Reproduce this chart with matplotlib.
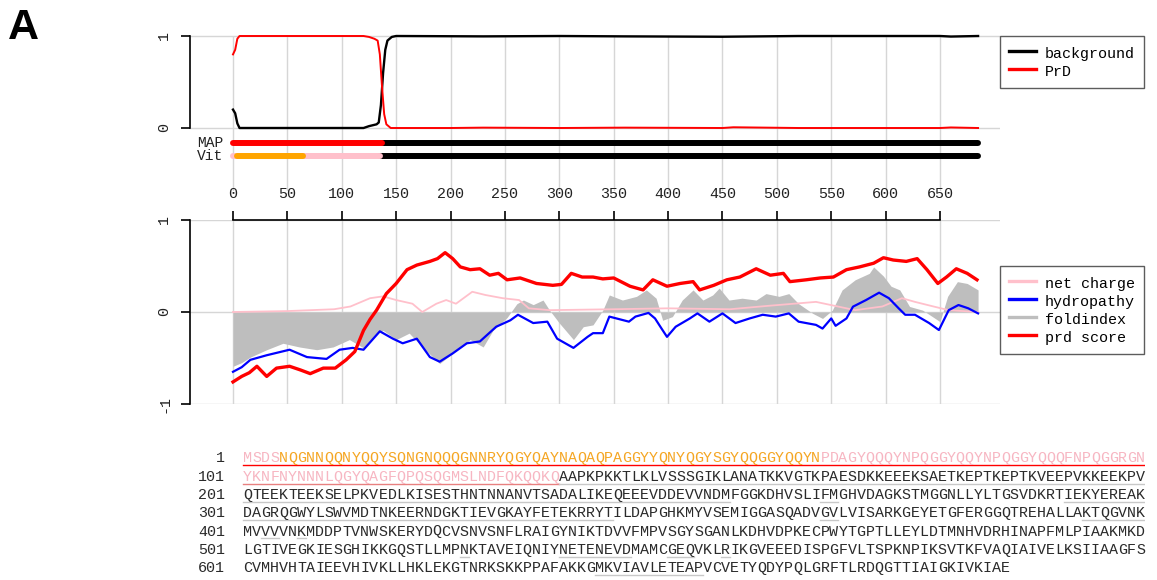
import matplotlib
matplotlib.use("Agg")
from matplotlib import pyplot as plt
from matplotlib.lines import Line2D

plt.rcParams['font.family'] = ['Liberation Mono', 'DejaVu Sans Mono']

# --- top panel: PrD / background probabilities ---
prd_x = [0, 2, 4, 6, 10, 60, 120, 125, 130, 133, 135, 137, 139, 141, 145, 200, 230, 300, 360, 450, 460, 520, 650, 660, 685]
prd_y = [0.80, 0.85, 0.97, 1.0, 1.0, 1.0, 1.0, 0.99, 0.97, 0.95, 0.80, 0.45, 0.15, 0.04, 0.0, 0.0, 0.004, 0.0, 0.004, 0.0, 0.008, 0.0, 0.0, 0.006, 0.0]
bg_x = [0, 2, 4, 6, 10, 120, 125, 132, 134, 136, 138, 140, 142, 146, 150, 230, 300, 360, 450, 520, 650, 660, 685]
bg_y = [0.20, 0.16, 0.05, 0.0, 0.0, 0.0, 0.02, 0.04, 0.06, 0.25, 0.6, 0.85, 0.95, 0.99, 1.0, 0.996, 1.0, 0.996, 0.992, 1.0, 1.0, 0.994, 1.0]

# MAP / Vit state tracks: (start, end, colour)
map_track = [(138, 685, "black"), (0, 137, "red")]
vit_track = [(135, 685, "black"), (0, 4, "pink"), (64, 135, "pink"), (4, 64, "orange")]

# --- bottom panel: sliding window scores ---
prd_score_x = [0, 8, 15, 22, 31, 40, 52, 62, 71, 83, 94, 104, 112, 120, 126, 132, 141, 150, 160, 169, 181, 188, 195, 202, 209, 218,
               227, 236, 244, 252, 264, 279, 294, 302, 311, 321, 331, 340, 350, 365, 377, 386, 399, 411, 423, 429, 442, 454, 466,
               481, 494, 506, 512, 527, 540, 552, 564, 576, 589, 598, 607, 619, 629, 638, 648, 656, 665, 675, 684]
prd_score = [-0.76, -0.70, -0.66, -0.59, -0.70, -0.61, -0.59, -0.63, -0.67, -0.61, -0.61, -0.52, -0.43, -0.20, -0.08, 0.02, 0.20,
             0.31, 0.46, 0.51, 0.55, 0.58, 0.645, 0.58, 0.49, 0.46, 0.47, 0.40, 0.42, 0.35, 0.37, 0.31, 0.29, 0.30, 0.42, 0.38,
             0.38, 0.36, 0.37, 0.28, 0.24, 0.35, 0.28, 0.31, 0.33, 0.24, 0.29, 0.35, 0.38, 0.47, 0.40, 0.42, 0.33, 0.35, 0.37,
             0.38, 0.46, 0.49, 0.53, 0.59, 0.565, 0.55, 0.58, 0.46, 0.31, 0.38, 0.47, 0.42, 0.35]

hydro_x = [0, 8, 16, 31, 52, 68, 86, 98, 110, 120, 135, 147, 156, 169, 181, 190, 202, 215, 227, 242, 255, 262, 276, 289, 298, 313,
           326, 331, 340, 346, 364, 370, 382, 388, 394, 399, 407, 420, 427, 438, 450, 462, 475, 487, 499, 511, 520, 536, 542, 550,
           554, 564, 570, 582, 594, 603, 612, 618, 627, 640, 649, 658, 667, 676, 685]
hydropathy = [-0.65, -0.60, -0.52, -0.47, -0.41, -0.49, -0.51, -0.41, -0.39, -0.41, -0.21, -0.29, -0.34, -0.29, -0.49, -0.54, -0.45,
              -0.34, -0.32, -0.16, -0.09, -0.03, -0.12, -0.105, -0.29, -0.39, -0.27, -0.23, -0.23, -0.05, -0.105, -0.05, -0.01,
              -0.07, -0.18, -0.27, -0.16, -0.07, -0.015, -0.105, -0.015, -0.12, -0.07, -0.03, -0.05, -0.015, -0.105, -0.14, -0.18,
              -0.07, -0.15, -0.07, 0.058, 0.13, 0.21, 0.15, 0.04, -0.03, -0.03, -0.12, -0.196, 0.02, 0.076, 0.04, -0.015]

charge_x = [0, 50, 93, 108, 126, 138, 150, 165, 174, 187, 196, 205, 220, 232, 248, 263, 272, 291, 350, 400, 457, 490, 536, 554,
            572, 597, 615, 627, 644, 658, 685]
net_charge = [0.0, 0.01, 0.03, 0.06, 0.15, 0.17, 0.13, 0.09, 0.0, 0.09, 0.13, 0.09, 0.22, 0.185, 0.15, 0.13, 0.04, 0.02, 0.03,
              0.04, 0.03, 0.065, 0.11, 0.065, 0.02, 0.06, 0.15, 0.11, 0.06, 0.02, 0.0]

fold_x = [0, 8, 16, 31, 46, 61, 77, 92, 107, 120, 132, 138, 150, 162, 174, 190, 202, 218, 230, 239, 252, 261, 267, 276, 285, 291,
          300, 313, 322, 331, 340, 346, 358, 371, 380, 389, 395, 404, 413, 423, 432, 441, 447, 456, 468, 481, 490, 502, 511, 520,
          533, 542, 551, 560, 572, 585, 589, 598, 605, 613, 622, 634, 643, 650, 657, 666, 675, 685]
foldindex = [-0.59, -0.55, -0.49, -0.41, -0.34, -0.38, -0.41, -0.38, -0.30, -0.39, -0.23, -0.20, -0.30, -0.23, -0.38, -0.56, -0.45,
             -0.30, -0.38, -0.20, -0.06, 0.09, 0.13, 0.08, 0.13, 0.02, -0.12, -0.30, -0.16, -0.14, 0.02, 0.185, 0.13, 0.17, 0.24,
             0.15, -0.09, -0.05, 0.13, 0.24, 0.13, 0.185, 0.26, 0.13, 0.15, 0.13, 0.20, 0.17, 0.20, 0.09, -0.015, -0.07, 0.02,
             0.24, 0.35, 0.42, 0.49, 0.39, 0.28, 0.24, 0.06, 0.02, -0.05, -0.105, 0.17, 0.33, 0.31, 0.24]

x_ticks = list(range(0, 651, 50))

# --- sequence ---
sequence = (
    "MSDSNQGNNQQNYQQYSQNGNQQQGNNRYQGYQAYNAQAQPAGGYYQNYQGYSGYQQGGYQQYNPDAGYQQQYNPQGGYQQYNPQGGYQQQFNPQGGRGN"
    "YKNFNYNNNLQGYQAGFQPQSQGMSLNDFQKQQKQAAPKPKKTLKLVSSSGIKLANATKKVGTKPAESDKKEEEKSAETKEPTKEPTKVEEPVKKEEKPV"
    "QTEEKTEEKSELPKVEDLKISESTHNTNNANVTSADALIKEQEEEVDDEVVNDMFGGKDHVSLIFMGHVDAGKSTMGGNLLYLTGSVDKRTIEKYEREAK"
    "DAGRQGWYLSWVMDTNKEERNDGKTIEVGKAYFETEKRRYTILDAPGHKMYVSEMIGGASQADVGVLVISARKGEYETGFERGGQTREHALLAKTQGVNK"
    "MVVVVNKMDDPTVNWSKERYDQCVSNVSNFLRAIGYNIKTDVVFMPVSGYSGANLKDHVDPKECPWYTGPTLLEYLDTMNHVDRHINAPFMLPIAAKMKD"
    "LGTIVEGKIESGHIKKGQSTLLMPNKTAVEIQNIYNETENEVDMAMCGEQVKLRIKGVEEEDISPGFVLTSPKNPIKSVTKFVAQIAIVELKSIIAAGFS"
    "CVMHVHTAIEEVHIVKLLHKLEKGTNRKSKKPPAFAKKGMKVIAVLETEAPVCVETYQDYPQLGRFTLRDQGTTIAIGKIVKIAE"
)
orange_region = (4, 64)
prd_region = (0, 135)
# underlines: (row, start col, end col, colour)
underlines = [
    (0, 0, 100, "red"), (1, 0, 35, "#e88080"), (1, 35, 100, "#c8c8c8"),
    (2, 0, 54, "#c8c8c8"), (2, 64, 66, "#c8c8c8"), (2, 91, 100, "#c8c8c8"),
    (3, 0, 41, "#c8c8c8"), (3, 64, 66, "#c8c8c8"), (3, 93, 100, "#c8c8c8"),
    (4, 2, 4, "#c8c8c8"), (4, 6, 7, "#c8c8c8"),
    (5, 24, 25, "#c8c8c8"), (5, 35, 43, "#c8c8c8"), (5, 47, 50, "#c8c8c8"), (5, 53, 54, "#c8c8c8"),
    (6, 39, 51, "#c8c8c8"),
]

W, H = 1157, 580
fig = plt.figure(figsize=(W / 100, H / 100), dpi=100)


def px_axes(left, top, right, bottom):
    return fig.add_axes([left / W, 1 - bottom / H, (right - left) / W, (bottom - top) / H])


grid_c = "#d6d6d6"
fs = 10.8
legend_kw = dict(loc="upper left", bbox_transform=fig.transFigure, fontsize=fs, frameon=True, fancybox=False,
                 edgecolor="#333333", borderpad=0.6, handlelength=1.8, handletextpad=0.6, handleheight=1.2,
                 labelspacing=0.15, borderaxespad=0)

# top panel
ax1 = px_axes(190, 31.4, 1000, 190.56)
ax1.set_xlim(-39.53, 705.16)
ax1.set_ylim(-0.68, 1.05)
ax1.vlines(x_ticks, -0.68, 1, colors=grid_c, lw=1, zorder=0)
ax1.axhline(0, color=grid_c, lw=1, zorder=0)
ax1.axhline(1, color=grid_c, lw=1, zorder=0)
ax1.plot(bg_x, bg_y, color="black", lw=1.7)
ax1.plot(prd_x, prd_y, color="red", lw=1.4)
for start, end, c in map_track:
    ax1.plot([start, end], [-0.163, -0.163], color=c, lw=4.3, solid_capstyle="round")
for start, end, c in vit_track:
    ax1.plot([start, end], [-0.304, -0.304], color=c, lw=4.3, solid_capstyle="round")
ax1.text(-9, -0.163, "MAP", ha="right", va="center", fontsize=10.5, color="#222222")
ax1.text(-9, -0.304, "Vit", ha="right", va="center", fontsize=10.5, color="#222222")
for s in ["top", "right", "bottom"]:
    ax1.spines[s].set_visible(False)
ax1.spines["left"].set_bounds(0, 1)
ax1.spines["left"].set_linewidth(1.2)
ax1.set_xticks([])
ax1.set_yticks([0, 1])
ax1.set_yticklabels(["0", "1"], rotation=90, va="center", fontsize=fs, color="#222222")
ax1.tick_params(axis="y", length=6.5, width=1.2, pad=7)
ax1.legend(handles=[Line2D([], [], color="black", lw=2.4), Line2D([], [], color="red", lw=2.4)],
           labels=["background", "PrD"], bbox_to_anchor=(1000 / W, 1 - 36 / H), **legend_kw)

# bottom panel
ax2 = px_axes(190, 220, 1000, 404)
ax2.set_xlim(-39.53, 705.16)
ax2.set_ylim(-1, 1)
ax2.vlines(x_ticks, -1, 1, colors=grid_c, lw=1, zorder=0)
for yv in [-1, 0, 1]:
    ax2.axhline(yv, color=grid_c, lw=1, zorder=0)
ax2.fill_between(fold_x, 0, foldindex, color="#bebebe", lw=0, zorder=1)
ax2.plot(charge_x, net_charge, color="pink", lw=1.3, zorder=2)
ax2.plot(hydro_x, hydropathy, color="blue", lw=1.6, zorder=3)
ax2.plot(prd_score_x, prd_score, color="red", lw=2.4, zorder=4)
for s in ["bottom", "right"]:
    ax2.spines[s].set_visible(False)
ax2.spines["top"].set_bounds(0, 650)
ax2.spines["left"].set_bounds(-1, 1)
ax2.spines["top"].set_linewidth(1.2)
ax2.spines["left"].set_linewidth(1.2)
ax2.xaxis.set_ticks_position("top")
ax2.set_xticks(x_ticks)
ax2.set_xticklabels([str(t) for t in x_ticks], fontsize=fs, color="#222222")
ax2.set_yticks([-1, 0, 1])
ax2.set_yticklabels(["-1", "0", "1"], rotation=90, va="center", fontsize=fs, color="#222222")
ax2.tick_params(axis="both", length=6.5, width=1.2, pad=7)
ax2.legend(handles=[Line2D([], [], color="pink", lw=2.4), Line2D([], [], color="blue", lw=2.4),
                    Line2D([], [], color="#bebebe", lw=2.4), Line2D([], [], color="red", lw=2.4)],
           labels=["net charge", "hydropathy", "foldindex", "prd score"],
           bbox_to_anchor=(1000 / W, 1 - 266 / H), **legend_kw)

# sequence block
ax3 = px_axes(198, 449.15, 198 + 9.02 * 105, 577.25)
ax3.set_xlim(0, 105)
ax3.set_ylim(6.5, -0.5)
ax3.axis("off")
for i, aa in enumerate(sequence):
    row, col = divmod(i, 100)
    if orange_region[0] <= i < orange_region[1]:
        c = "#f5a623"
    elif prd_region[0] <= i < prd_region[1]:
        c = "#f7b6c2"
    else:
        c = "#2a2a2a"
    ax3.text(col + 5.5, row, aa, ha="center", va="center", fontsize=fs, color=c)
for row in range(0, (len(sequence) + 99) // 100):
    ax3.text(3, row, str(row * 100 + 1), ha="right", va="center", fontsize=fs, color="#2a2a2a")
for row, start, end, c in underlines:
    ax3.plot([start + 5, end + 5], [row + 0.38, row + 0.38], color=c, lw=1.0)

fig.text(8 / W, 1 - 39 / H, "A", fontsize=31, fontweight="bold", family="Liberation Sans",
         ha="left", va="baseline")

fig.savefig("out.png", dpi=100)
